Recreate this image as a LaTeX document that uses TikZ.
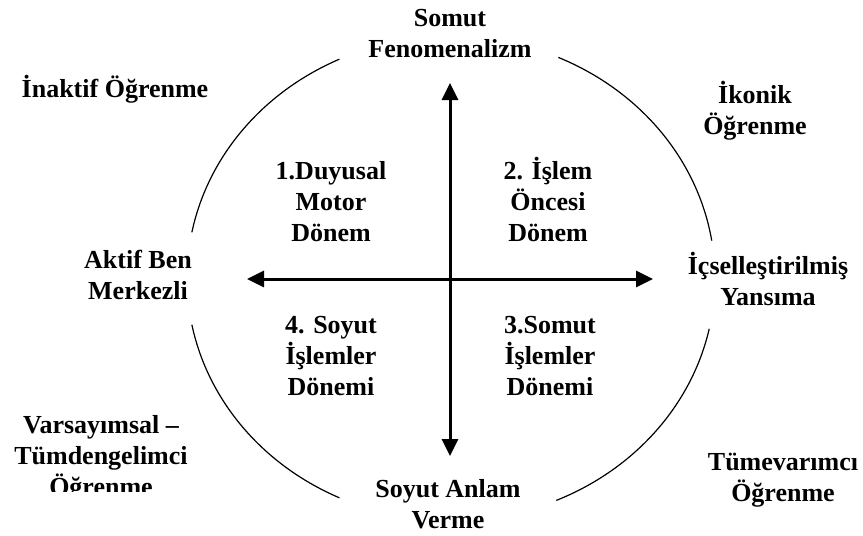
\documentclass[tikz,border=0pt]{standalone}
\usepackage{fontspec}
\setmainfont{Liberation Serif}
\usetikzlibrary{arrows.meta}
\newcommand\sx{\rule[-8pt]{0pt}{31pt}}
\tikzset{
  lbl/.style={font=\fontsize{26}{31}\selectfont\bfseries, align=center, inner sep=0pt, anchor=north},
  arr/.style={line width=3pt, {Triangle[length=17pt,width=16pt]}-{Triangle[length=17pt,width=16pt]}},
  ring/.style={line width=1.2pt}
}
\begin{document}
\begin{tikzpicture}[x=1pt,y=-1pt]
\useasboundingbox (0,0) rectangle (863,536);
% ellipse arcs
\draw[ring] plot[domain=9:66, samples=60] ({451+264*cos(\x)},{278.5-242*sin(\x)});
\draw[ring] plot[domain=115:169, samples=60] ({451+264*cos(\x)},{278.5-242*sin(\x)});
\draw[ring] plot[domain=191:245, samples=60] ({451+264*cos(\x)},{278.5-242*sin(\x)});
\draw[ring] plot[domain=293.5:348, samples=60] ({451+264*cos(\x)},{278.5-242*sin(\x)});
% arrows
\coordinate (T) at (450,83);
\coordinate (B) at (450,456);
\coordinate (L) at (247,279);
\coordinate (R) at (653,279);
\draw[arr] (T) -- (B);
\draw[arr] (L) -- (R);
% labels
\node[lbl] (somut) at (450,3) {\sx Somut\\\sx Fenomenalizm};
\node[lbl] (soyut) at (448,474) {\sx Soyut Anlam\\\sx Verme};
\node[lbl] (aktif) at (138,245) {\sx Aktif Ben\\\sx Merkezli};
\node[lbl] (icsel) at (768,251) {\sx İçselleştirilmiş\\\sx Yansıma};
\node[lbl] (inaktif) at (115,74) {\sx İnaktif Öğrenme};
\node[lbl] (ikonik) at (755,80) {\sx İkonik\\\sx Öğrenme};
\begin{scope}
\clip (0,0) rectangle (863,491);
\node[lbl] (varsay) at (101,410) {\sx Varsayımsal –\\\sx Tümdengelimci\\\sx Öğrenme};
\end{scope}
\node[lbl] (tumev) at (783,447) {\sx Tümevarımcı\\\sx Öğrenme};
\node[lbl] (q1) at (331,156) {\sx 1.Duyusal\\\sx Motor\\\sx Dönem};
\node[lbl] (q2) at (548,156) {\sx 2. İşlem\\\sx Öncesi\\\sx Dönem};
\node[lbl] (q4) at (331,310) {\sx 4. Soyut\\\sx İşlemler\\\sx Dönemi};
\node[lbl] (q3) at (550,310) {\sx 3.Somut\\\sx İşlemler\\\sx Dönemi};
\end{tikzpicture}
\end{document}
